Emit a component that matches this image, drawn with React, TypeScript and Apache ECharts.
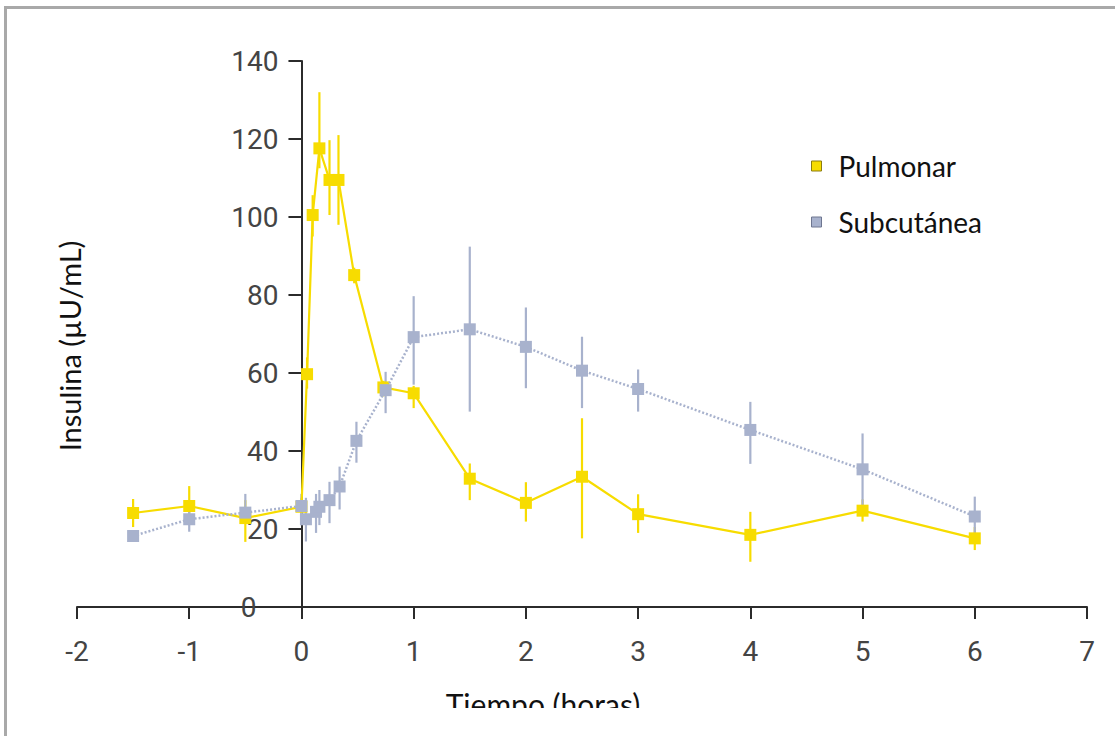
import React, { useEffect, useRef } from "react";
import * as echarts from "echarts";

// Time (hours)
const pulmTime = [-1.5, -1, -0.5, 0, 0.05, 0.1, 0.16, 0.25, 0.33, 0.47, 0.73, 1, 1.5, 2, 2.5, 3, 4, 5, 6];
const pulmValue = [24.1, 25.9, 22.8, 25.7, 59.7, 100.5, 117.6, 109.5, 109.5, 85.1, 56.3, 54.8, 32.9, 26.7, 33.4, 23.8, 18.5, 24.7, 17.6];
const pulmLow = [20.5, 21.5, 16.7, 23, 56, 95, 112.5, 100.5, 98, 83, 54, 51, 27.4, 21.9, 17.6, 19, 11.6, 21.9, 14.6];
const pulmHigh = [27.7, 31, 27.4, 28, 64, 105.6, 132, 119.7, 121, 87, 58, 56.7, 36.8, 32, 48.4, 28.9, 24.4, 27.6, 20.5];

const subTime = [-1.5, -1, -0.5, 0, 0.04, 0.13, 0.16, 0.25, 0.34, 0.49, 0.75, 1, 1.5, 2, 2.5, 3, 4, 5, 6];
const subValue = [18.2, 22.5, 24.2, 25.9, 22.5, 24.4, 25.7, 27.4, 30.9, 42.6, 55.6, 69.2, 71.2, 66.7, 60.6, 55.9, 45.4, 35.3, 23.2];
const subLow = [17, 19.3, 21.5, 21, 16.8, 19, 21, 21.5, 25, 37, 49.7, 57, 50.1, 56.1, 51, 50.1, 36.7, 26, 18];
const subHigh = [19.5, 24.4, 29, 29, 28, 29, 30, 32.1, 36, 47.5, 60.3, 79.7, 92.4, 76.8, 69.3, 60.9, 52.6, 44.5, 28.3];

const yTickValues = [0, 20, 40, 60, 80, 100, 120, 140];

const seriesNames = ["Pulmonar", "Subcutánea"];
const xTitle = "Tiempo (horas)";
const yTitle = "Insulina (µU/mL)";

const YELLOW = "#F7DC00";
const GRAY = "#A8B2CD";
const AXIS = "#2b2b2b";
const TICK_FONT = "Roboto, 'Liberation Sans', sans-serif";
const TEXT_FONT = "Lato, 'Open Sans', sans-serif";

const X_MIN = -2;
const X_MAX = 7;
const GRID_LEFT = 77;
const GRID_RIGHT = 28;
const CHART_W = 1115;

function errorSeries(name: string, t: number[], lo: number[], hi: number[], color: string) {
  return {
    type: "custom",
    name: name + "-err",
    data: t.map((x, i) => [x, lo[i], hi[i]]),
    encode: { x: 0, y: [1, 2] },
    silent: true,
    renderItem: (_params: any, api: any) => {
      const x = api.value(0);
      const p1 = api.coord([x, api.value(1)]);
      const p2 = api.coord([x, api.value(2)]);
      return {
        type: "line",
        shape: { x1: p1[0], y1: p1[1], x2: p2[0], y2: p2[1] },
        style: { stroke: color, lineWidth: 2.2 },
      };
    },
  };
}

export default function App() {
  const ref = useRef<HTMLDivElement>(null);
  useEffect(() => {
    if (!ref.current) return;
    const chart = echarts.init(ref.current, undefined, { renderer: "svg" });
    const plotW = CHART_W - GRID_LEFT - GRID_RIGHT;
    // move the y axis inward so it sits at x = 0
    const yOffset = -((0 - X_MIN) / (X_MAX - X_MIN)) * plotW;
    chart.setOption({
      animation: false,
      backgroundColor: "#ffffff",
      grid: { left: GRID_LEFT, right: GRID_RIGHT, top: 61, bottom: 129, containLabel: false },
      xAxis: {
        type: "value",
        min: X_MIN,
        max: X_MAX,
        interval: 1,
        splitLine: { show: false },
        axisLine: { onZero: true, lineStyle: { color: AXIS, width: 2 } },
        axisTick: { show: true, length: 12, lineStyle: { color: AXIS, width: 2 } },
        axisLabel: { margin: 30, fontSize: 28, color: "#444", fontFamily: TICK_FONT },
      },
      yAxis: {
        type: "value",
        min: 0,
        max: 140,
        interval: 20,
        offset: yOffset,
        splitLine: { show: false },
        axisLine: { show: true, onZero: false, lineStyle: { color: AXIS, width: 2 } },
        axisTick: { show: true, length: 12, lineStyle: { color: AXIS, width: 2 } },
        axisLabel: {
          margin: 23,
          fontSize: 28,
          color: "#444",
          fontFamily: TICK_FONT,
          formatter: (v: number) => (v === 0 ? "{z|0}" : String(v)),
          rich: { z: { fontSize: 28, color: "#444", fontFamily: TICK_FONT, padding: [0, 22, 0, 0] } },
        },
      },
      legend: {
        orient: "vertical",
        left: 806,
        top: 147,
        itemWidth: 10,
        itemHeight: 10,
        itemGap: 28,
        icon: "rect",
        textStyle: { fontSize: 28, color: "#111", fontFamily: TEXT_FONT, padding: [12, 0, 0, 12] },
        data: [
          { name: seriesNames[0], itemStyle: { color: YELLOW, borderColor: "#8c7d10", borderWidth: 1 } },
          { name: seriesNames[1], itemStyle: { color: GRAY, borderColor: "#6e7690", borderWidth: 1 } },
        ],
      },
      graphic: [
        {
          type: "rect",
          shape: { x: 5.5, y: 7.5, width: 1200, height: 800 },
          style: { fill: "none", stroke: "#a9a9a9", lineWidth: 3 },
          silent: true,
          z: 100,
        },
        {
          type: "text",
          x: 69,
          y: 346,
          rotation: Math.PI / 2,
          style: {
            text: yTitle,
            font: "29px " + TEXT_FONT,
            fill: "#111",
            textAlign: "center",
            textVerticalAlign: "middle",
          },
        },
        {
          type: "text",
          x: 543,
          y: 704,
          style: {
            text: xTitle,
            font: "30px " + TEXT_FONT,
            fill: "#111",
            textAlign: "center",
            textVerticalAlign: "middle",
          },
          z: 10,
        },
        {
          type: "rect",
          shape: { x: 8, y: 708, width: 1110, height: 40 },
          style: { fill: "#ffffff" },
          silent: true,
          z: 50,
        },
      ],
      series: [
        {
          type: "custom",
          name: "y-ticks",
          silent: true,
          data: yTickValues.map((v) => [0, v]),
          encode: { x: 0, y: 1 },
          renderItem: (_params: any, api: any) => {
            const p = api.coord([api.value(0), api.value(1)]);
            return {
              type: "line",
              shape: { x1: p[0] - 13, y1: p[1], x2: p[0], y2: p[1] },
              style: { stroke: AXIS, lineWidth: 2 },
            };
          },
          z: 1,
        },
        errorSeries(seriesNames[0], pulmTime, pulmLow, pulmHigh, YELLOW),
        {
          type: "line",
          name: seriesNames[0],
          data: pulmTime.map((t, i) => [t, pulmValue[i]]),
          symbol: "rect",
          symbolSize: 12,
          showSymbol: true,
          itemStyle: { color: YELLOW },
          lineStyle: { color: YELLOW, width: 2.2 },
          z: 3,
        },
        errorSeries(seriesNames[1], subTime, subLow, subHigh, GRAY),
        {
          type: "line",
          name: seriesNames[1],
          data: subTime.map((t, i) => [t, subValue[i]]),
          symbol: "rect",
          symbolSize: 12,
          showSymbol: true,
          itemStyle: { color: GRAY },
          lineStyle: { color: GRAY, width: 2.5, type: [2, 2] },
          z: 4,
        },
      ],
    });
    return () => chart.dispose();
  }, []);
  return (
    <div
      ref={ref}
      style={{ position: "absolute", left: 0, top: 0, width: CHART_W, height: 736 }}
    />
  );
}
